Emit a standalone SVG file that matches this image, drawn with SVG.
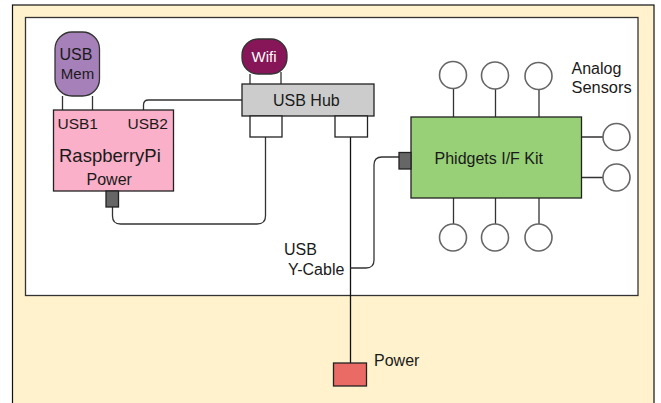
<svg xmlns="http://www.w3.org/2000/svg" width="661" height="403" viewBox="0 0 661 403">
<style>
text{font-family:"Liberation Sans",Arial,sans-serif;font-size:16px;fill:#1a1a1a}
.b{stroke:#222;stroke-width:1.3}
.w{fill:none;stroke:#333;stroke-width:1.3}
.s{fill:#fff;stroke:#666;stroke-width:1.6}
</style>
<rect width="661" height="403" fill="#fff"/>
<g id="enclosure"><rect x="12.5" y="5" width="641.5" height="405" fill="#fff2cc" stroke="#111" stroke-width="1.2"/></g>
<g id="case"><rect x="25.5" y="17.5" width="612.5" height="278" fill="#fff" stroke="#333" stroke-width="1.3"/></g>
<g id="connectors">
<path class="w" d="M62.500 96V110M92.500 96V110"/>
<path class="w" d="M143.500 110V105Q143.500 100 148.500 100H242"/>
<path class="w" d="M112.500 207V216Q112.500 224 120.500 224H257Q265.500 224 265.500 216V137"/>
<path class="w" d="M250 74V84M281 72V84"/>
<path d="M350.500 137V363" fill="none" stroke="#111" stroke-width="1.3"/>
<path class="w" d="M350.500 268H366Q374 268 374 260V165Q374 157 382 157H399"/>
<path class="w" d="M453.500 88V117M495.500 89V117M539 89V117M453.500 198V224M495.500 198V224M539 198V224M581.500 137H603M581.500 177.500H603"/>
</g>
<g id="usb-mem"><rect x="55" y="32" width="44.500" height="64" rx="17" fill="#a680b8" stroke="#333" stroke-width="1.300"/><text x="76" y="60" text-anchor="middle">USB</text><text x="77.500" y="79" text-anchor="middle" style="font-size:15px">Mem</text></g>
<g id="raspberry-pi"><rect x="53.500" y="110" width="120" height="81" fill="#f9b0c8" stroke="#222" stroke-width="1.300"/><text x="57.500" y="128.500" style="font-size:15.500px">USB1</text><text x="127.500" y="128.500" style="font-size:15.500px">USB2</text><text x="59" y="161.500" style="font-size:18.500px">RaspberryPi</text><text x="86.500" y="185">Power</text></g>
<g id="pi-power-port"><rect x="106" y="191" width="12.500" height="16" fill="#666" stroke="#222" stroke-width="1.300"/></g>
<g id="wifi"><rect x="242" y="39" width="45" height="35" rx="16" fill="#861657" stroke="#333" stroke-width="1.300"/><text x="264" y="61.500" text-anchor="middle" style="fill:#fff;font-size:15px">Wifi</text></g>
<g id="usb-hub"><rect x="242" y="84" width="132" height="32" fill="#ccc" stroke="#222" stroke-width="1.300"/><text x="273" y="106">USB Hub</text></g>
<g id="hub-port-1"><rect x="250" y="116" width="32" height="21" fill="#fff" class="b"/></g>
<g id="hub-port-2"><rect x="335" y="116" width="32.500" height="21" fill="#fff" class="b"/></g>
<g id="phidgets"><rect x="411" y="117" width="170.500" height="81" fill="#97d077" stroke="#222" stroke-width="1.300"/><text x="434.500" y="164">Phidgets I/F Kit</text></g>
<g id="phidgets-port"><rect x="399" y="152.500" width="12" height="16.500" fill="#666" stroke="#222" stroke-width="1.300"/></g>
<g id="sensors">
<circle class="s" cx="453" cy="75" r="13.500"/><circle class="s" cx="495" cy="75.500" r="13.500"/><circle class="s" cx="538.500" cy="76" r="13.500"/>
<circle class="s" cx="616.500" cy="137" r="13.500"/><circle class="s" cx="616.500" cy="177.500" r="13.500"/>
<circle class="s" cx="453" cy="237.500" r="13.500"/><circle class="s" cx="495" cy="237.500" r="13.500"/><circle class="s" cx="538.500" cy="237.500" r="13.500"/>
<text x="571.500" y="74">Analog</text><text x="571.500" y="93" style="font-size:16.400px">Sensors</text></g>
<g id="cable-label"><text x="284" y="255">USB</text><text x="288" y="275">Y-Cable</text></g>
<g id="power"><rect x="333.500" y="363" width="33" height="23" fill="#ea6b66" stroke="#222" stroke-width="1.300"/><text x="374" y="366">Power</text></g>
</svg>
